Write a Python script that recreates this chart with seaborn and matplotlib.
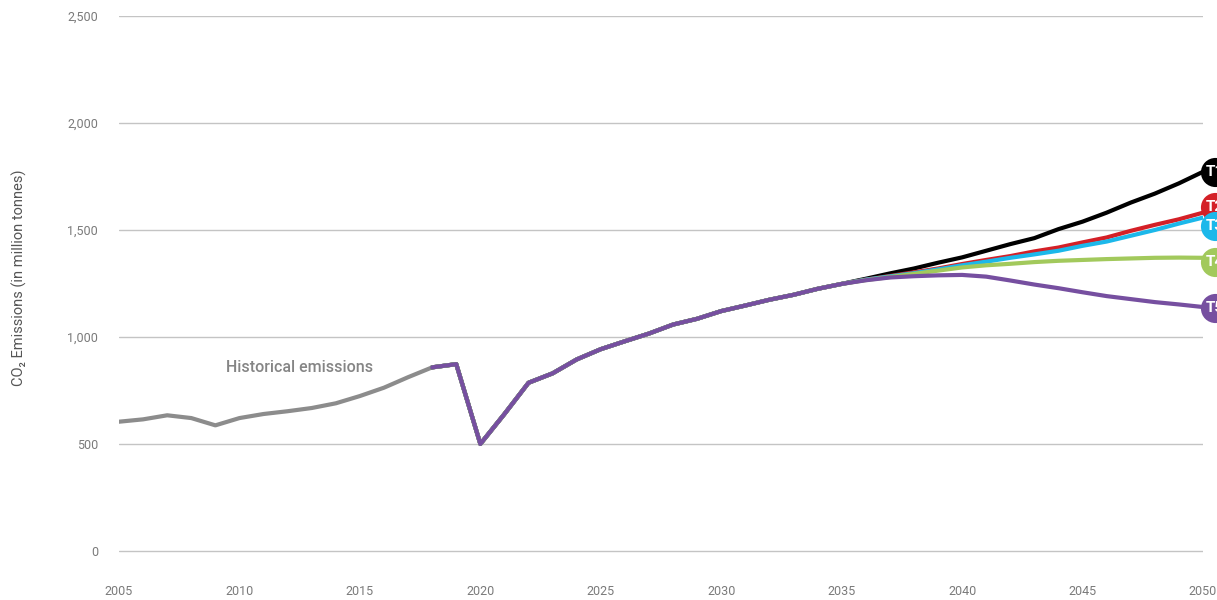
import numpy as np
import pandas as pd
import seaborn as sns
import matplotlib
matplotlib.use("Agg")
import matplotlib.pyplot as plt
from matplotlib.transforms import offset_copy

# -------------------------------
# Data (million tonnes CO2)
# -------------------------------
hist_years = list(range(2005, 2019))
hist_values = [604, 615, 634, 621, 587, 621, 640, 653, 668, 690, 724, 763, 812, 858]

common_years = list(range(2018, 2036))
common_values = [858, 873, 500, 640, 786, 830, 895, 943, 980, 1016, 1058, 1085,
                 1121, 1147, 1174, 1197, 1225, 1248]

split_years = list(range(2036, 2051))
t1_values = [1272, 1297, 1320, 1347, 1372, 1403, 1434, 1462, 1504, 1539, 1581, 1628, 1670, 1718, 1772]
t2_values = [1268, 1285, 1302, 1320, 1341, 1360, 1378, 1400, 1418, 1442, 1465, 1496, 1524, 1550, 1581]
t3_values = [1268, 1283, 1298, 1316, 1335, 1352, 1370, 1386, 1403, 1426, 1446, 1473, 1500, 1530, 1558]
t4_values = [1266, 1280, 1295, 1310, 1325, 1335, 1342, 1350, 1356, 1360, 1364, 1367, 1370, 1371, 1370]
t5_values = [1265, 1278, 1284, 1288, 1290, 1282, 1264, 1245, 1228, 1209, 1191, 1177, 1163, 1152, 1140]

scenario_names = ["T1", "T2", "T3", "T4", "T5"]
scenario_colors = ["#000000", "#d42027", "#1cb8ea", "#a2c95c", "#764fa0"]
# pixel nudges for the end badges so they don't sit on top of each other
badge_dy = [0, 6, -8, -4.5, -1]

# -------------------------------
# Build long table
# -------------------------------
rows = []
for name, tail in zip(scenario_names, [t1_values, t2_values, t3_values, t4_values, t5_values]):
    for yr, v in zip(common_years + split_years, common_values + tail):
        rows.append({"year": yr, "value": v, "scenario": name})
df = pd.DataFrame(rows)
hist = pd.DataFrame({"year": hist_years, "value": hist_values})

# -------------------------------
# Plot
# -------------------------------
sns.set_style("white")
plt.rcParams["font.family"] = ["Roboto", "DejaVu Sans"]

fig = plt.figure(figsize=(12.17, 6.0), dpi=100)
# axes stretched a little below zero so the 0 grid line is not clipped
ax = fig.add_axes([0.0978, 0.065, 0.8907, 0.9083])

sns.lineplot(data=hist, x="year", y="value", color="#8c8c8c", linewidth=3, ax=ax)
sns.lineplot(data=df, x="year", y="value", hue="scenario", hue_order=scenario_names,
             palette=scenario_colors, linewidth=3, legend=False, ax=ax)

ax.set_xlim(2005, 2050)
ax.set_ylim(-47, 2500)
ax.set_xticks(range(2005, 2051, 5))
ax.set_yticks(range(0, 2501, 500))
ax.set_yticklabels([f"{v:,}" for v in range(0, 2501, 500)])
ax.tick_params(axis="both", length=0, labelsize=9, labelcolor="#7a7a7a")
ax.tick_params(axis="x", pad=17)
ax.tick_params(axis="y", pad=15)
ax.yaxis.grid(True, color="#c4c4c4", linewidth=1)
ax.xaxis.grid(False)
ax.set_axisbelow(True)
for s in ax.spines.values():
    s.set_visible(False)

ax.set_xlabel("")
ax.set_ylabel("CO₂ Emissions (in million tonnes)", fontsize=10.5, color="#555555")
ax.yaxis.set_label_coords(-0.085, 0.52)

ax.text(2012.5, 855, "Historical emissions", ha="center", va="center",
        fontsize=11.5, color="#858585", fontweight="medium")

# end badges
for name, col, dy, tail in zip(scenario_names, scenario_colors, badge_dy,
                               [t1_values, t2_values, t3_values, t4_values, t5_values]):
    tr = offset_copy(ax.transData, fig=fig, x=11.5 * 0.72, y=dy * 0.72, units="points")
    ax.scatter([split_years[-1]], [tail[-1]], s=440, color=col, transform=tr,
               clip_on=False, zorder=5, linewidths=0)
    ax.text(split_years[-1], tail[-1], name, transform=tr, ha="center", va="center",
            color="white", fontsize=11, fontweight="bold", clip_on=False, zorder=6)

fig.savefig("out.png", dpi=100)
